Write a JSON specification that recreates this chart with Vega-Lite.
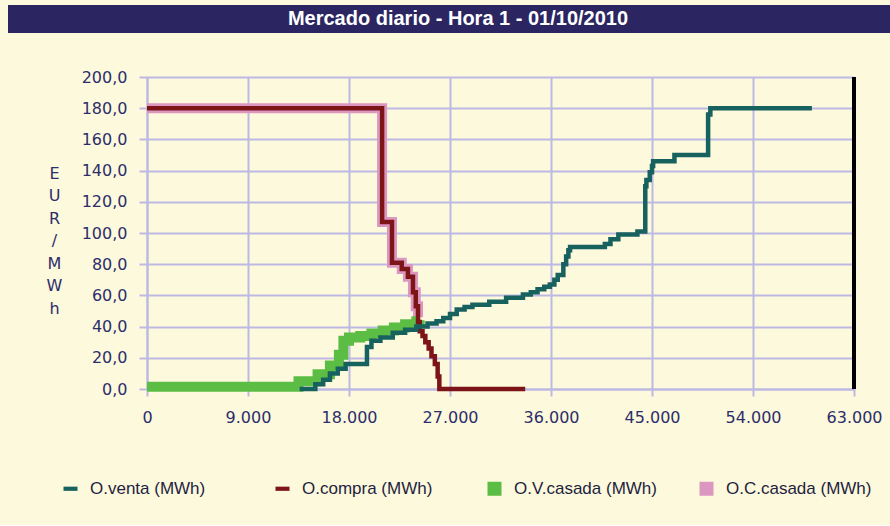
{
  "$schema": "https://vega.github.io/schema/vega-lite/v6.json",
  "background": "#fcf9dc",
  "padding": {"left": 8, "top": 5, "right": 0, "bottom": 28},
  "config": {"view": {"stroke": null}},
  "datasets": {
    "curves": [
      {"s": "O.venta (MWh)", "x": 13600, "y": 0},
      {"s": "O.venta (MWh)", "x": 15000, "y": 3},
      {"s": "O.venta (MWh)", "x": 15700, "y": 6},
      {"s": "O.venta (MWh)", "x": 16300, "y": 10},
      {"s": "O.venta (MWh)", "x": 17000, "y": 13},
      {"s": "O.venta (MWh)", "x": 17700, "y": 16},
      {"s": "O.venta (MWh)", "x": 19600, "y": 27},
      {"s": "O.venta (MWh)", "x": 20000, "y": 31},
      {"s": "O.venta (MWh)", "x": 20800, "y": 33},
      {"s": "O.venta (MWh)", "x": 21900, "y": 36},
      {"s": "O.venta (MWh)", "x": 23000, "y": 38},
      {"s": "O.venta (MWh)", "x": 24000, "y": 40},
      {"s": "O.venta (MWh)", "x": 25000, "y": 42},
      {"s": "O.venta (MWh)", "x": 25800, "y": 43.5},
      {"s": "O.venta (MWh)", "x": 26400, "y": 45.5},
      {"s": "O.venta (MWh)", "x": 27000, "y": 48},
      {"s": "O.venta (MWh)", "x": 27600, "y": 51},
      {"s": "O.venta (MWh)", "x": 28300, "y": 52.5},
      {"s": "O.venta (MWh)", "x": 29000, "y": 54},
      {"s": "O.venta (MWh)", "x": 30500, "y": 56},
      {"s": "O.venta (MWh)", "x": 32000, "y": 58.5},
      {"s": "O.venta (MWh)", "x": 33500, "y": 60.5},
      {"s": "O.venta (MWh)", "x": 34200, "y": 62},
      {"s": "O.venta (MWh)", "x": 34800, "y": 64},
      {"s": "O.venta (MWh)", "x": 35400, "y": 65.5},
      {"s": "O.venta (MWh)", "x": 35900, "y": 67},
      {"s": "O.venta (MWh)", "x": 36300, "y": 70},
      {"s": "O.venta (MWh)", "x": 36600, "y": 73},
      {"s": "O.venta (MWh)", "x": 37100, "y": 80},
      {"s": "O.venta (MWh)", "x": 37350, "y": 85},
      {"s": "O.venta (MWh)", "x": 37550, "y": 89},
      {"s": "O.venta (MWh)", "x": 37700, "y": 91},
      {"s": "O.venta (MWh)", "x": 40800, "y": 93},
      {"s": "O.venta (MWh)", "x": 41300, "y": 96},
      {"s": "O.venta (MWh)", "x": 42000, "y": 99},
      {"s": "O.venta (MWh)", "x": 43700, "y": 101},
      {"s": "O.venta (MWh)", "x": 44400, "y": 130},
      {"s": "O.venta (MWh)", "x": 44500, "y": 134},
      {"s": "O.venta (MWh)", "x": 44800, "y": 139},
      {"s": "O.venta (MWh)", "x": 45000, "y": 143},
      {"s": "O.venta (MWh)", "x": 45100, "y": 146},
      {"s": "O.venta (MWh)", "x": 47000, "y": 150},
      {"s": "O.venta (MWh)", "x": 50000, "y": 176},
      {"s": "O.venta (MWh)", "x": 50200, "y": 180},
      {"s": "O.venta (MWh)", "x": 59250, "y": 180},
      {"s": "O.compra (MWh)", "x": 0, "y": 180},
      {"s": "O.compra (MWh)", "x": 20950, "y": 107},
      {"s": "O.compra (MWh)", "x": 21830, "y": 81},
      {"s": "O.compra (MWh)", "x": 22700, "y": 77},
      {"s": "O.compra (MWh)", "x": 23250, "y": 72},
      {"s": "O.compra (MWh)", "x": 23700, "y": 62},
      {"s": "O.compra (MWh)", "x": 23950, "y": 53},
      {"s": "O.compra (MWh)", "x": 24150, "y": 43},
      {"s": "O.compra (MWh)", "x": 24300, "y": 37},
      {"s": "O.compra (MWh)", "x": 24550, "y": 34},
      {"s": "O.compra (MWh)", "x": 24800, "y": 30},
      {"s": "O.compra (MWh)", "x": 25100, "y": 26},
      {"s": "O.compra (MWh)", "x": 25350, "y": 21},
      {"s": "O.compra (MWh)", "x": 25650, "y": 16},
      {"s": "O.compra (MWh)", "x": 25900, "y": 8},
      {"s": "O.compra (MWh)", "x": 26050, "y": 0},
      {"s": "O.compra (MWh)", "x": 33700, "y": 0},
      {"s": "O.V.casada (MWh)", "x": 0, "y": 1.5},
      {"s": "O.V.casada (MWh)", "x": 13500, "y": 5},
      {"s": "O.V.casada (MWh)", "x": 15200, "y": 9.5},
      {"s": "O.V.casada (MWh)", "x": 16300, "y": 15},
      {"s": "O.V.casada (MWh)", "x": 17100, "y": 22},
      {"s": "O.V.casada (MWh)", "x": 17500, "y": 31},
      {"s": "O.V.casada (MWh)", "x": 18000, "y": 33},
      {"s": "O.V.casada (MWh)", "x": 19000, "y": 34},
      {"s": "O.V.casada (MWh)", "x": 20000, "y": 35.5},
      {"s": "O.V.casada (MWh)", "x": 21000, "y": 37.5},
      {"s": "O.V.casada (MWh)", "x": 22000, "y": 39.5},
      {"s": "O.V.casada (MWh)", "x": 23000, "y": 41.5},
      {"s": "O.V.casada (MWh)", "x": 24000, "y": 43.5},
      {"s": "O.V.casada (MWh)", "x": 24300, "y": 44},
      {"s": "O.C.casada (MWh)", "x": 0, "y": 180},
      {"s": "O.C.casada (MWh)", "x": 20950, "y": 107},
      {"s": "O.C.casada (MWh)", "x": 21830, "y": 81},
      {"s": "O.C.casada (MWh)", "x": 22700, "y": 77},
      {"s": "O.C.casada (MWh)", "x": 23250, "y": 72},
      {"s": "O.C.casada (MWh)", "x": 23700, "y": 62},
      {"s": "O.C.casada (MWh)", "x": 23950, "y": 53},
      {"s": "O.C.casada (MWh)", "x": 24150, "y": 46}
    ]
  },
  "spacing": 36,
  "vconcat": [
    {
      "width": 882,
      "height": 28,
      "view": {"fill": "#2b2662", "stroke": null},
      "data": {"values": [{"t": "Mercado diario - Hora 1 - 01/10/2010"}]},
      "mark": {"type": "text", "color": "white", "font": "Liberation Sans", "fontSize": 20, "fontWeight": "bold", "dx": 9},
      "encoding": {"text": {"field": "t", "type": "nominal"}}
    },
    {
      "spacing": 37,
      "hconcat": [
        {
          "width": 1,
          "height": 1,
          "view": {"stroke": null},
          "data": {"values": [{}]},
          "mark": {"type": "text", "text": ""}
        },
        {
          "width": 707,
          "height": 312,
          "data": {"name": "curves"},
          "layer": [
            {
              "transform": [{"filter": "datum.s === 'O.C.casada (MWh)'"}],
              "mark": {"type": "line", "interpolate": "step-after", "strokeWidth": 10, "strokeCap": "butt"},
              "encoding": {
                "x": {
                  "field": "x", "type": "quantitative",
                  "scale": {"domain": [0, 63000], "nice": false, "zero": false},
                  "axis": {
                    "title": null,
                    "values": [0, 9000, 18000, 27000, 36000, 45000, 54000, 63000],
                    "tickCount": 8,
                    "labelExpr": "datum.value == 0 ? '0' : replace(format(datum.value, ','), ',', '.')",
                    "labelFont": "DejaVu Sans", "labelFontSize": 16, "labelColor": "#2d2d6b",
                    "labelFlush": false, "labelOverlap": false, "labelPadding": 13,
                    "grid": true, "gridColor": "#bdb9e3", "gridWidth": 2,
                    "domainColor": "#bdb9e3", "domainWidth": 2,
                    "tickColor": "#bdb9e3", "tickWidth": 2, "tickSize": 7
                  }
                },
                "y": {
                  "field": "y", "type": "quantitative",
                  "scale": {"domain": [0, 200], "nice": false, "zero": false},
                  "axis": {
                    "title": ["E", "U", "R", "/", "M", "W", "h"],
                    "titleAngle": 0, "titleX": -93, "titleY": 88, "titleBaseline": "top", "titleAlign": "center",
                    "titleLineHeight": 22.5, "titleFont": "DejaVu Sans", "titleFontSize": 16, "titleFontWeight": "normal", "titleColor": "#2d2d6b",
                    "values": [0, 20, 40, 60, 80, 100, 120, 140, 160, 180, 200],
                    "tickCount": 11,
                    "labelExpr": "replace(format(datum.value, '.1f'), '.', ',')",
                    "labelFont": "DejaVu Sans", "labelFontSize": 16, "labelColor": "#2d2d6b",
                    "labelFlush": false, "labelOverlap": false, "labelPadding": 12,
                    "grid": true, "gridColor": "#bdb9e3", "gridWidth": 2,
                    "domainColor": "#bdb9e3", "domainWidth": 2,
                    "tickColor": "#bdb9e3", "tickWidth": 2, "tickSize": 8
                  }
                },
                "color": {
                  "field": "s", "type": "nominal",
                  "scale": {
                    "domain": ["O.venta (MWh)", "O.compra (MWh)", "O.V.casada (MWh)", "O.C.casada (MWh)"],
                    "range": ["#17625f", "#7d1518", "#5cbd45", "#dc97c0"]
                  },
                  "legend": {
                    "orient": "none", "legendX": 54, "legendY": 475,
                    "direction": "horizontal", "columns": 4, "gridAlign": "all", "columnPadding": 38,
                    "title": null, "padding": 0,
                    "labelFont": "Liberation Sans", "labelFontSize": 17, "labelColor": "#1f1f3f", "labelOffset": 11,
                    "symbolSize": 196, "symbolType": "square",
                    "encode": {
                      "symbols": {
                        "update": {
                          "shape": {"signal": "(datum.value === 'O.venta (MWh)' || datum.value === 'O.compra (MWh)') ? 'M-1,-0.3H1V0.3H-1Z' : 'square'"},
                          "fill": {"scale": "color", "field": "value"},
                          "strokeWidth": {"value": 0},
                          "opacity": {"value": 1}
                        }
                      }
                    }
                  }
                }
              }
            },
            {
              "transform": [{"filter": "datum.s === 'O.V.casada (MWh)'"}],
              "mark": {"type": "line", "interpolate": "step-after", "strokeWidth": 10, "strokeCap": "butt"},
              "encoding": {
                "x": {"field": "x", "type": "quantitative"},
                "y": {"field": "y", "type": "quantitative"},
                "color": {"field": "s", "type": "nominal"}
              }
            },
            {
              "transform": [{"filter": "datum.s === 'O.compra (MWh)'"}],
              "mark": {"type": "line", "interpolate": "step-after", "strokeWidth": 4.5, "strokeCap": "butt"},
              "encoding": {
                "x": {"field": "x", "type": "quantitative"},
                "y": {"field": "y", "type": "quantitative"},
                "color": {"field": "s", "type": "nominal"}
              }
            },
            {
              "transform": [{"filter": "datum.s === 'O.venta (MWh)'"}],
              "mark": {"type": "line", "interpolate": "step-after", "strokeWidth": 4.5, "strokeCap": "butt"},
              "encoding": {
                "x": {"field": "x", "type": "quantitative"},
                "y": {"field": "y", "type": "quantitative"},
                "color": {"field": "s", "type": "nominal"}
              }
            },
            {
              "mark": {"type": "rule", "color": "#000000", "strokeWidth": 3},
              "encoding": {"x": {"datum": 63000}}
            }
          ]
        }
      ]
    }
  ]
}
